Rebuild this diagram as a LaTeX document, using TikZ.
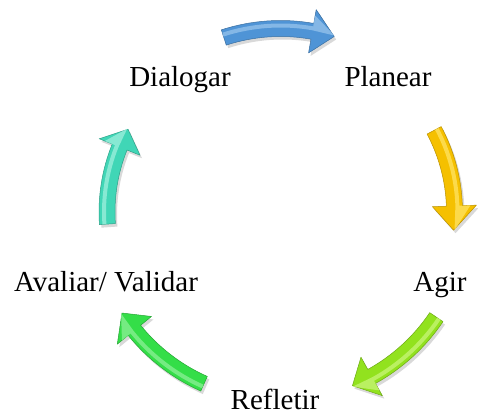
\documentclass[tikz,border=0pt]{standalone}
\usepackage{fontspec}
\setmainfont{Liberation Serif}
\definecolor{cblue}{RGB}{79,148,214}
\definecolor{cbluel}{RGB}{150,196,236}
\definecolor{cyel}{RGB}{245,192,0}
\definecolor{cyell}{RGB}{255,228,100}
\definecolor{clime}{RGB}{146,226,30}
\definecolor{climel}{RGB}{200,245,120}
\definecolor{cgrn}{RGB}{52,222,72}
\definecolor{cgrnl}{RGB}{140,240,150}
\definecolor{cteal}{RGB}{64,214,182}
\definecolor{ctealm}{RGB}{160,240,222}
\tikzset{
  lbl/.style={inner sep=0pt, anchor=base, font=\fontsize{29}{31}\selectfont},
}
% curved block arrow around the cycle centre, running clockwise
% #1 fill, #2 highlight, #3 radius, #4 tail angle, #5 head base angle, #6 tip angle
\newcommand\cycarrow[6]{%
  \begin{scope}[shift={(280.5,204)}]
    \fill[black, opacity=0.15, shift={(2,-3)}]
      ({#4}:{#3+8}) arc[start angle={#4}, end angle={#5}, radius={#3+8}]
      -- ({#5}:{#3+22}) -- ({#6}:{#3}) -- ({#5}:{#3-22}) -- ({#5}:{#3-8})
      arc[start angle={#5}, end angle={#4}, radius={#3-8}] -- cycle;
    \fill[#1, draw=#1!75!black, line width=0.5pt, line join=round]
      ({#4}:{#3+8}) arc[start angle={#4}, end angle={#5}, radius={#3+8}]
      -- ({#5}:{#3+22}) -- ({#6}:{#3}) -- ({#5}:{#3-22}) -- ({#5}:{#3-8})
      arc[start angle={#5}, end angle={#4}, radius={#3-8}] -- cycle;
    \fill[#2, opacity=0.75]
      ({#4}:{#3+5}) arc[start angle={#4}, end angle={#5}, radius={#3+5}]
      -- ({#5}:{#3+16}) -- ({#6}:{#3+1}) -- ({#5}:{#3+1})
      arc[start angle={#5}, end angle={#4}, radius={#3+1}] -- cycle;
  \end{scope}}
\begin{document}
\begin{tikzpicture}[x=1pt, y=1pt]
  \useasboundingbox (0,0) rectangle (478,416);
  \cycarrow{cblue}{cbluel}{183.5}{108}{80}{73}
  \cycarrow{cyel}{cyell}{174}{28}{2}{-6}
  \cycarrow{clime}{climel}{188}{-34}{-61}{-67.5}
  \cycarrow{cgrn}{cgrnl}{188}{246}{219}{212.5}
  \cycarrow{cteal}{ctealm}{173.5}{184}{158}{151.5}
  \node[lbl] (dialogar) at (180,330) {Dialogar};
  \node[lbl] (planear) at (388,330) {Planear};
  \node[lbl] (agir) at (440,125) {Agir};
  \node[lbl] (refletir) at (275,7) {Refletir};
  \node[lbl] (avaliar) at (106,125) {Avaliar/ Validar};
\end{tikzpicture}
\end{document}
